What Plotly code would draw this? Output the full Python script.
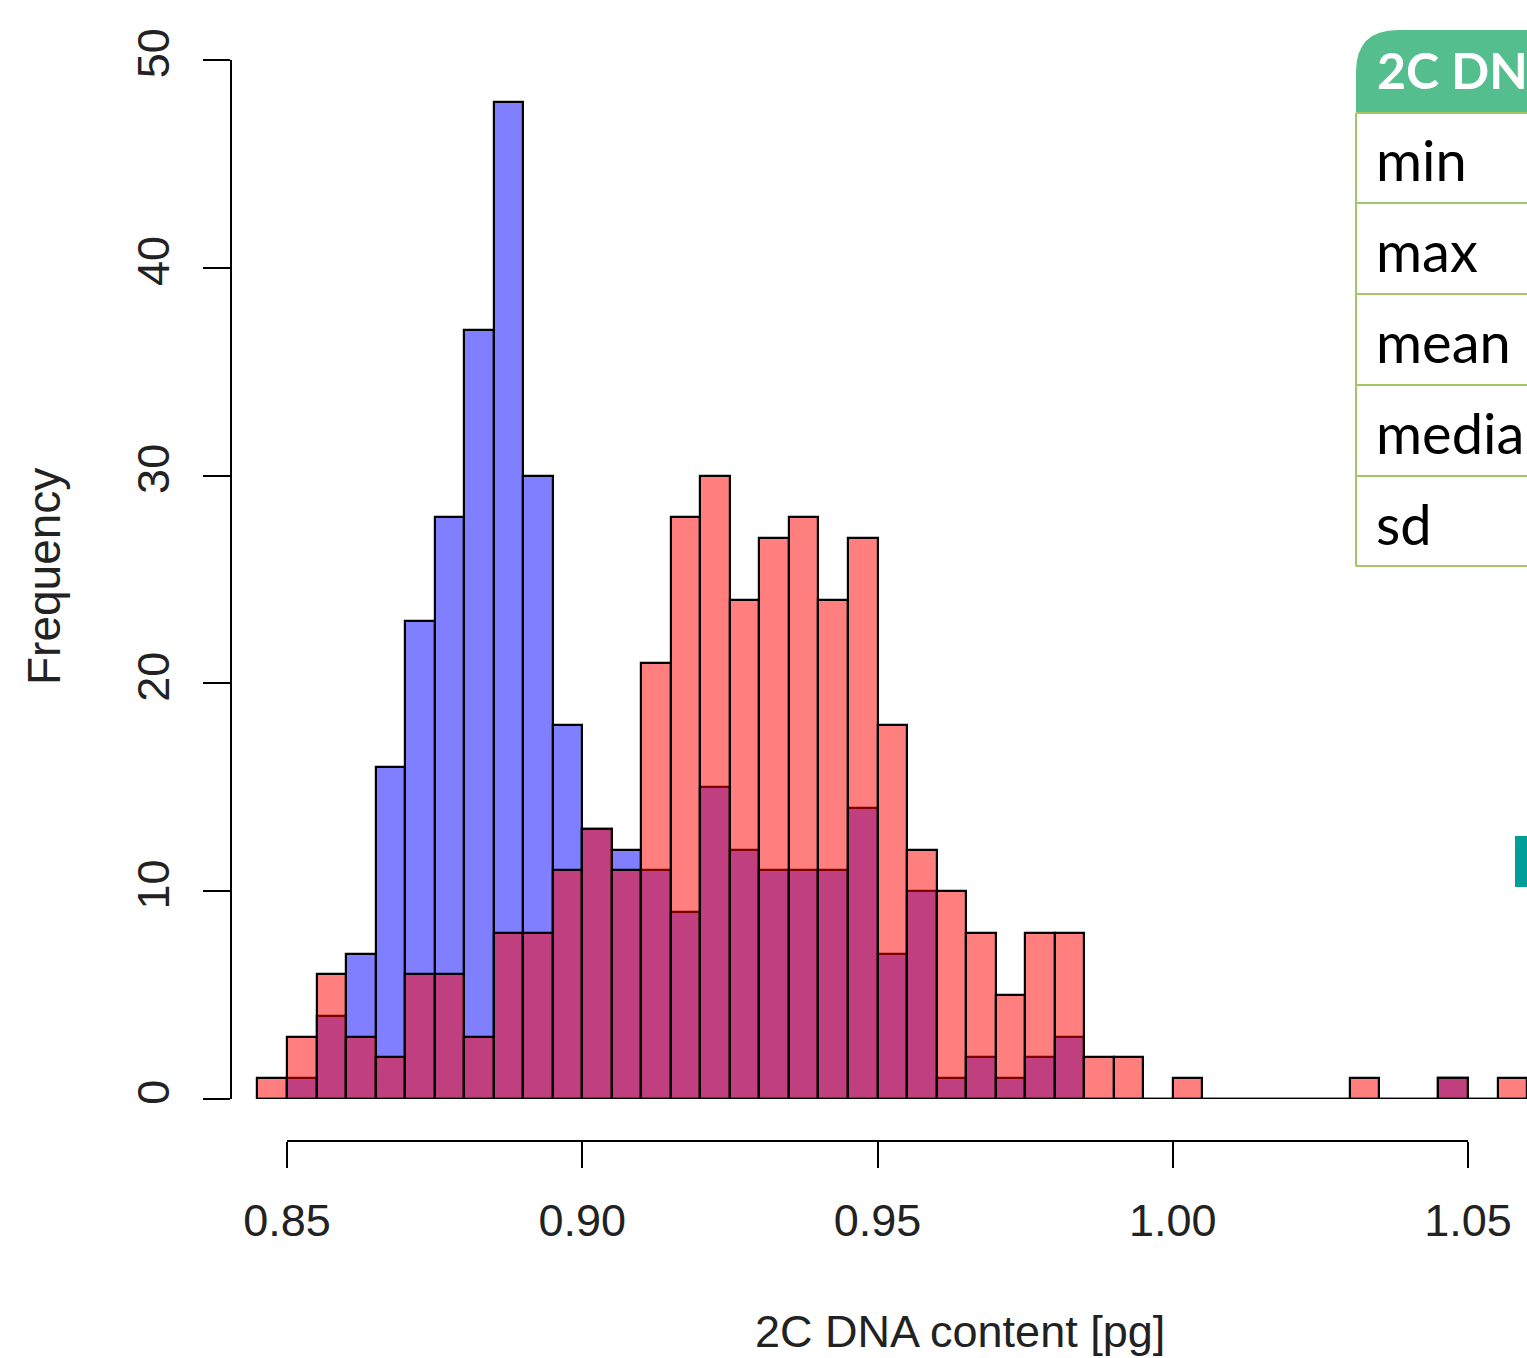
import plotly.graph_objects as go

# ---------------- data ----------------
bin_left = [0.845, 0.850, 0.855, 0.860, 0.865, 0.870, 0.875, 0.880, 0.885, 0.890,
            0.895, 0.900, 0.905, 0.910, 0.915, 0.920, 0.925, 0.930, 0.935, 0.940,
            0.945, 0.950, 0.955, 0.960, 0.965, 0.970, 0.975, 0.980, 0.985, 0.990,
            0.995, 1.000, 1.005, 1.010, 1.015, 1.020, 1.025, 1.030, 1.035, 1.040,
            1.045, 1.050, 1.055]
bin_width = 0.005

blue_counts = [0, 1, 4, 7, 16, 23, 28, 37, 48, 30,
               18, 13, 12, 11, 9, 15, 12, 11, 11, 11,
               14, 7, 10, 1, 2, 1, 2, 3, 0, 0,
               0, 0, 0, 0, 0, 0, 0, 0, 0, 0,
               1, 0, 0]
red_counts = [1, 3, 6, 3, 2, 6, 6, 3, 8, 8,
              11, 13, 11, 21, 28, 30, 24, 27, 28, 24,
              27, 18, 12, 10, 8, 5, 8, 8, 2, 2,
              0, 1, 0, 0, 0, 0, 0, 1, 0, 0,
              1, 0, 1]

x_ticks = [0.85, 0.90, 0.95, 1.00, 1.05]
x_ticktext = ["0.85", "0.90", "0.95", "1.00", "1.05"]
y_ticks = [0, 10, 20, 30, 40, 50]

x_title = "2C DNA content [pg]"
y_title = "Frequency"

table_header = "2C DNA content [pg]"
table_rows = ["min", "max", "mean", "median", "sd"]

# ---------------- layout geometry (pixels) ----------------
W, H = 1527, 1358
L, R_, T, B = 232, 1527, 60, 1141          # plot area
PW, PH = R_ - L, B - T
X085_PX, X105_PX = 287, 1468
Y0_PX = 1099
ppu = (X105_PX - X085_PX) / (x_ticks[-1] - x_ticks[0])


def px(p):
    return (p - L) / PW


def py(p):
    return (B - p) / PH


x_range = [x_ticks[0] - (X085_PX - L) / ppu, x_ticks[0] + (R_ - X085_PX) / ppu]

AX_FONT = dict(family="Liberation Sans, Arial, sans-serif", size=45, color="#222222")

fig = go.Figure()
fig.add_trace(go.Bar(x=bin_left, y=blue_counts, width=bin_width, offset=0,
                     marker=dict(color="rgba(0,0,255,0.5)",
                                 line=dict(color="black", width=2.2)),
                     showlegend=False, hoverinfo="skip"))
fig.add_trace(go.Bar(x=bin_left, y=red_counts, width=bin_width, offset=0,
                     marker=dict(color="rgba(255,0,0,0.5)",
                                 line=dict(color="black", width=2.2)),
                     showlegend=False, hoverinfo="skip"))
# zero-height bins are drawn as a baseline in the original histogram
fig.add_trace(go.Scatter(x=[bin_left[0], bin_left[-1] + bin_width], y=[0, 0],
                         mode="lines", line=dict(color="black", width=2),
                         showlegend=False, hoverinfo="skip"))
# dummy trace so the detached x axis is drawn
fig.add_trace(go.Scatter(x=[x_ticks[0]], y=[None], xaxis="x2", yaxis="y",
                         mode="markers", showlegend=False, hoverinfo="skip"))

fig.update_layout(
    template="none",
    width=W, height=H, autosize=False,
    margin=dict(l=L, r=W - R_, t=T, b=H - B, pad=0, autoexpand=False),
    paper_bgcolor="white", plot_bgcolor="rgba(0,0,0,0)",
    barmode="overlay", bargap=0,
    xaxis=dict(domain=[0, 1], range=x_range, visible=False, fixedrange=True,
               automargin=False),
    xaxis2=dict(domain=[px(X085_PX), px(X105_PX)], range=[x_ticks[0], x_ticks[-1]],
                anchor="free", position=0, automargin=False,
                showline=True, linecolor="black", linewidth=2,
                ticks="outside", ticklen=26, tickwidth=2, tickcolor="black",
                tickvals=x_ticks, ticktext=x_ticktext, tickfont=AX_FONT,
                ticklabelstandoff=14,
                showgrid=False, zeroline=False, fixedrange=True),
    yaxis=dict(domain=[py(Y0_PX), 1], range=[0, 50], anchor="x", automargin=False,
               showline=True, linecolor="black", linewidth=2,
               ticks="outside", ticklen=27, tickwidth=2, tickcolor="black",
               tickvals=y_ticks, tickangle=-90, tickfont=AX_FONT,
               ticklabelstandoff=16,
               showgrid=False, zeroline=False, fixedrange=True),
)

# axis titles
fig.add_annotation(text=y_title, x=px(44), y=py(577), xref="paper", yref="paper",
                   textangle=-90, showarrow=False, font=dict(AX_FONT, size=46),
                   xanchor="center", yanchor="middle")
fig.add_annotation(text=x_title, x=px(960), y=py(1331), xref="paper", yref="paper",
                   showarrow=False, font=dict(AX_FONT, size=45),
                   xanchor="center", yanchor="middle")

# ---------------- summary table (clipped at the right edge) ----------------
green = "#54BE8E"
line_green = "#A2C567"
tx0, tx1 = 1356, 1560
hy0, hy1 = 30, 113
rad = 42
fig.add_shape(type="path", xref="paper", yref="paper",
              path=(f"M {px(tx0)},{py(hy1)} L {px(tx0)},{py(hy0 + rad)} "
                    f"Q {px(tx0)},{py(hy0)} {px(tx0 + rad)},{py(hy0)} "
                    f"L {px(tx1)},{py(hy0)} L {px(tx1)},{py(hy1)} Z"),
              fillcolor=green, line=dict(width=0), layer="above")
fig.add_annotation(text=f"<b>{table_header}</b>", x=px(1375), y=py(70),
                   xref="paper", yref="paper", showarrow=False,
                   xanchor="left", yanchor="middle",
                   font=dict(family="Lato, Open Sans, sans-serif", size=50, color="white"))
row_edges = [113, 203, 294, 385, 476, 566]
for ye in row_edges:
    fig.add_shape(type="line", xref="paper", yref="paper",
                  x0=px(tx0), x1=px(tx1), y0=py(ye), y1=py(ye),
                  line=dict(color=line_green, width=2), layer="above")
fig.add_shape(type="line", xref="paper", yref="paper",
              x0=px(tx0), x1=px(tx0), y0=py(row_edges[0]), y1=py(row_edges[-1]),
              line=dict(color=line_green, width=2), layer="above")
for i, lab in enumerate(table_rows):
    yc = (row_edges[i] + row_edges[i + 1]) / 2 + 2
    fig.add_annotation(text=lab, x=px(1374), y=py(yc), xref="paper", yref="paper",
                       showarrow=False, xanchor="left", yanchor="middle",
                       font=dict(family="Lato, Open Sans, sans-serif", size=56, color="black"))

# small teal marker at the right edge
fig.add_shape(type="rect", xref="paper", yref="paper",
              x0=px(1515), x1=px(1540), y0=py(887), y1=py(836),
              fillcolor="#009E99", line=dict(width=0), layer="above")

fig.write_html("out.html", config={"displayModeBar": False, "responsive": False},
               post_script="document.body.style.margin='0';document.body.style.overflow='hidden';")
